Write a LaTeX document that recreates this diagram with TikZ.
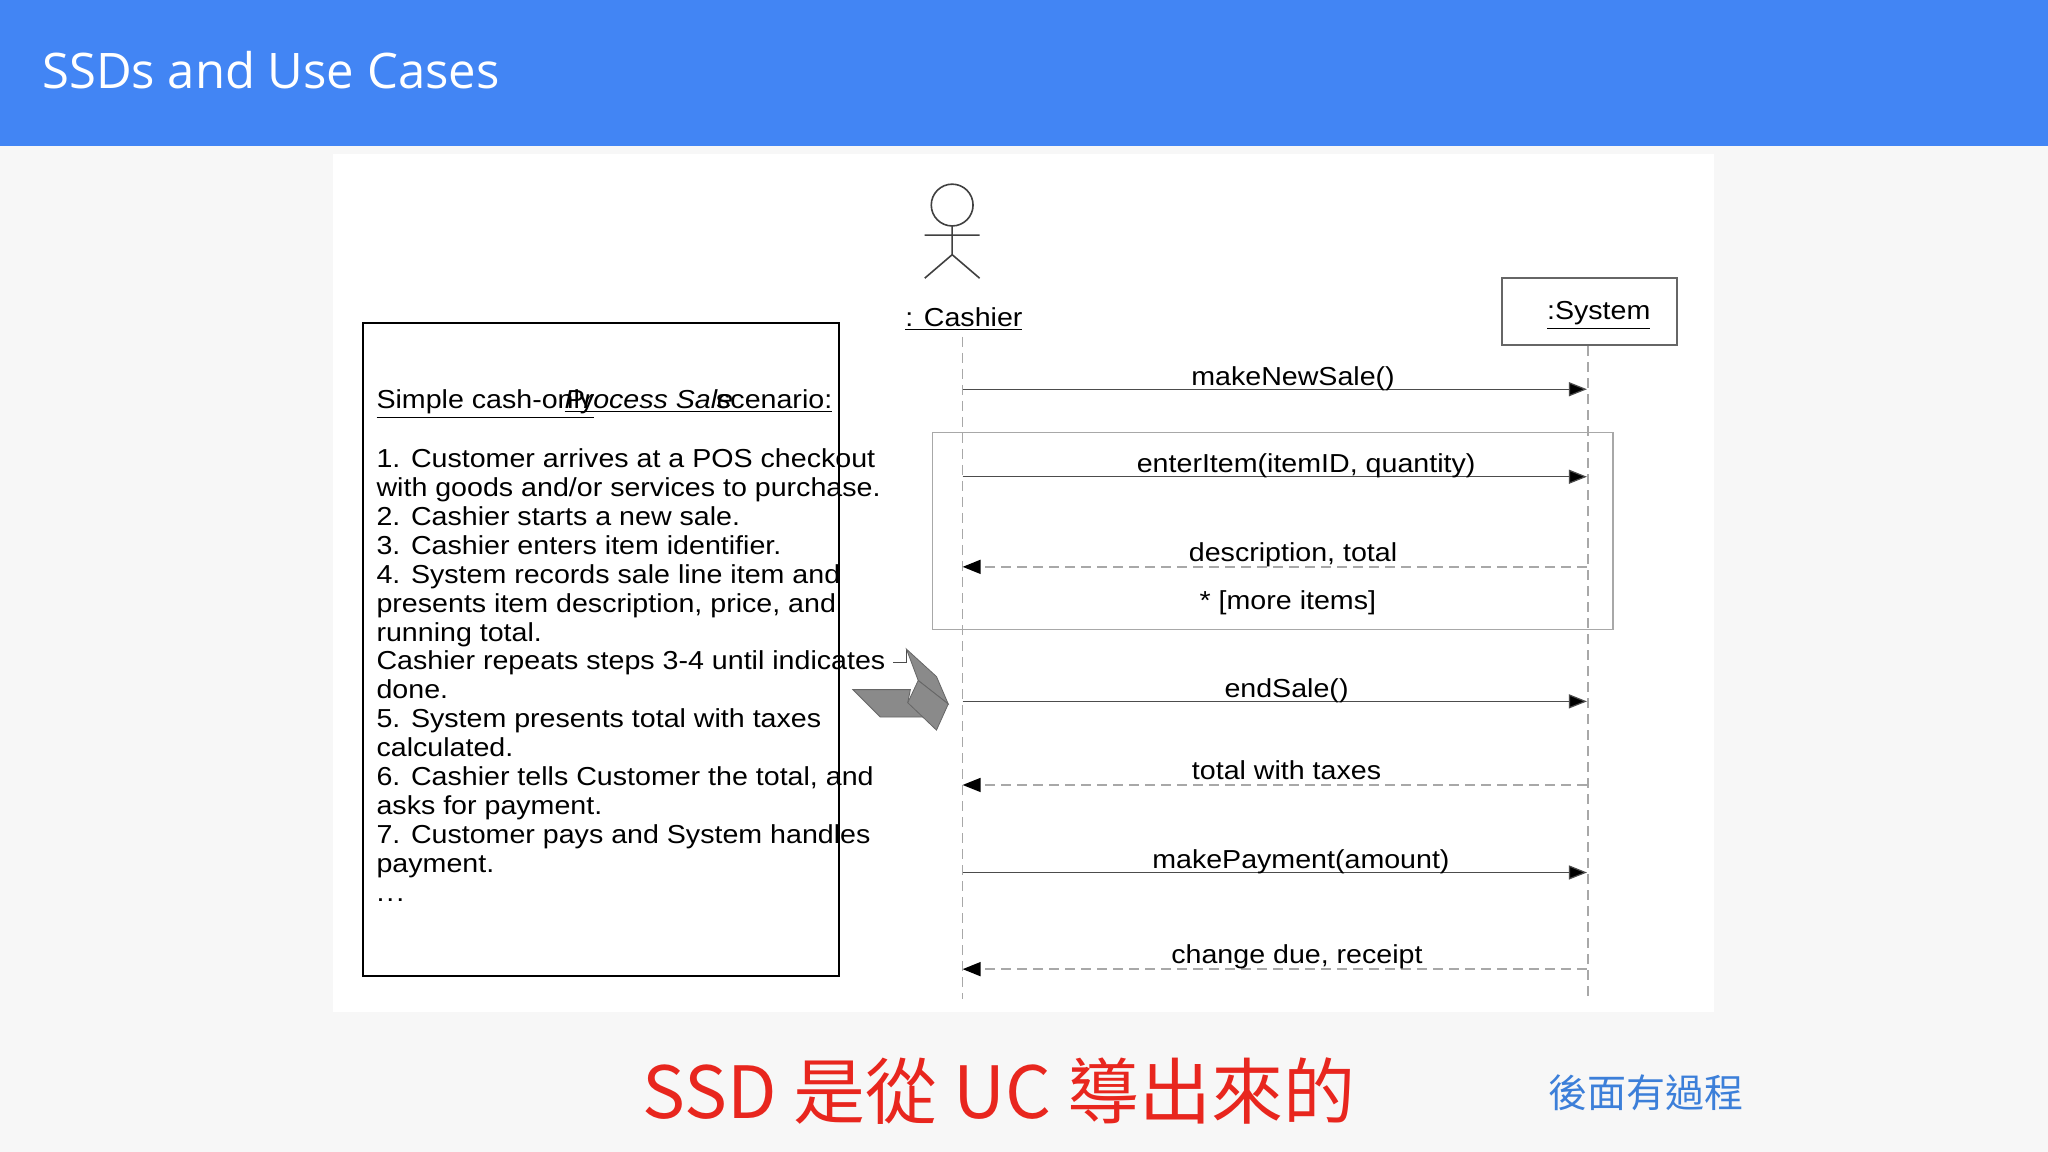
\documentclass[tikz,border=0pt]{standalone}
\usepackage{fontspec}
\setmainfont{Liberation Sans}
\newfontfamily\wide[FakeStretch=1.1]{Liberation Sans}
\newfontfamily\cjk{Noto Sans CJK TC}
\newfontfamily\titlefont{Open Sans}
\usetikzlibrary{arrows.meta}
\definecolor{gbar}{HTML}{4285F4}
\definecolor{lline}{HTML}{A8A8A8}
\definecolor{redt}{HTML}{E8261E}
\definecolor{bluet}{HTML}{3C7FD9}
\definecolor{flap}{HTML}{8A8A8A}
\begin{document}
\begin{tikzpicture}[x=0.653pt,y=-0.653pt,
  txt/.style={anchor=base west,inner sep=0,font=\wide\fontsize{13}{15}\selectfont},
  lbl/.style={anchor=base,inner sep=0,font=\wide\fontsize{13}{15}\selectfont},
  lifeline/.style={draw=lline,dash pattern=on 5pt off 3pt,line width=0.8pt},
  callmsg/.style={draw=black!70,line width=0.6pt,-{Triangle[length=9pt,width=7pt,fill=black]}},
  retmsg/.style={draw=lline,line width=0.8pt,dash pattern=on 5pt off 3pt,-{Triangle[length=9pt,width=7pt,fill=black,color=black]}},
  gshape/.style={fill=flap,draw=black!60,line width=0.4pt}]
\useasboundingbox (0,0) rectangle (1568,882);
\fill[black!3] (0,0) rectangle (1568,882);
\fill[gbar] (0,0) rectangle (1568,112);
\node[anchor=base west,inner sep=0,text=white,font=\titlefont\fontsize{24.5}{28}\selectfont] (title) at (32,68) {SSDs and Use Cases};
\fill[white] (255,118) rectangle (1312,775);
% left box
\draw[line width=1pt] (278,247) rectangle (642,747);
\node[txt] (s1) at (288,313) {\underline{Simple cash-only}};
\node[txt] (s2) at (432,313) {\underline{\itshape Process Sale}};
\node[txt] (s3) at (548,313) {\underline{scenario:}};
\foreach \t [count=\i] in {1. Customer arrives at a POS checkout,with goods and/or services to purchase.,2. Cashier starts a new sale.,3. Cashier enters item identifier.,4. System records sale line item and,{presents item description, price, and},running total.,Cashier repeats steps 3-4 until indicates,done.,5. System presents total with taxes,calculated.,{6. Cashier tells Customer the total, and},asks for payment.,7. Customer pays and System handles,payment.}
  \node[txt] (l\i) at (288,{358+22.13*(\i-1)}) {\t};
\node[txt] (l16) at (288,690) {.\kern1pt.\kern1pt.};
% actor
\draw[line width=0.8pt,black!75] (729,157) circle (16);
\draw[line width=0.8pt,black!75] (729,173) -- (729,195) (708,180) -- (750,180) (708,213) -- (729,195) -- (750,213);
\node[lbl] (cashier) at (738,250) {\underline{: Cashier}};
\node[draw=black!60,line width=0.8pt,minimum width=134*0.653pt,minimum height=51*0.653pt,inner sep=0] (sys) at (1217,238.5) {};
\node[lbl] (systxt) at (1224,245) {\underline{:System}};
\coordinate (c0) at (737,258); \coordinate (c1) at (737,765);
\coordinate (s0) at (1216,265); \coordinate (s1e) at (1216,765);
\draw[lifeline] (c0) -- (c1);
\draw[lifeline] (s0) -- (s1e);
\draw[draw=lline,line width=0.8pt] (714,331) rectangle (1235,482);
% messages
\foreach \y/\lab/\cx [count=\k] in {298/makeNewSale()/990,365/{enterItem(itemID, quantity)}/1000,537/endSale()/985,668/makePayment(amount)/996}{
  \coordinate (ma\k) at (737,\y); \coordinate (mb\k) at (1215,\y);
  \draw[callmsg] (ma\k) -- (mb\k);
  \node[lbl] (ml\k) at (\cx,\y-3) {\lab};}
\foreach \y/\lab/\cx [count=\k] in {434/{description, total}/990,601/total with taxes/985,742/{change due, receipt}/993}{
  \coordinate (ra\k) at (1215,\y); \coordinate (rb\k) at (737,\y);
  \draw[retmsg] (ra\k) -- (rb\k);
  \node[lbl] (rl\k) at (\cx,\y-4) {\lab};}
\node[lbl] (more) at (986,467) {* [more items]};
% fancy arrow
\draw[black!70,line width=0.5pt] (684,507) -- (694,507) -- (694,497);
\filldraw[gshape] (653,528) -- (697,528) -- (695,538) -- (710,549) -- (674,549) -- cycle;
\filldraw[gshape] (694,497) -- (717,518) -- (726,539) -- (703,521) -- cycle;
\filldraw[gshape] (695,538) -- (703,521) -- (726,539) -- (717,559) -- cycle;
% bottom text
\node[anchor=base,inner sep=0,text=redt,font=\cjk\fontsize{36}{40}\selectfont] (big) at (765,856) {SSD 是從 UC 導出來的};
\node[anchor=base,inner sep=0,text=bluet,font=\cjk\fontsize{19.5}{22}\selectfont] (small) at (1260,848) {後面有過程};
\end{tikzpicture}
\end{document}
